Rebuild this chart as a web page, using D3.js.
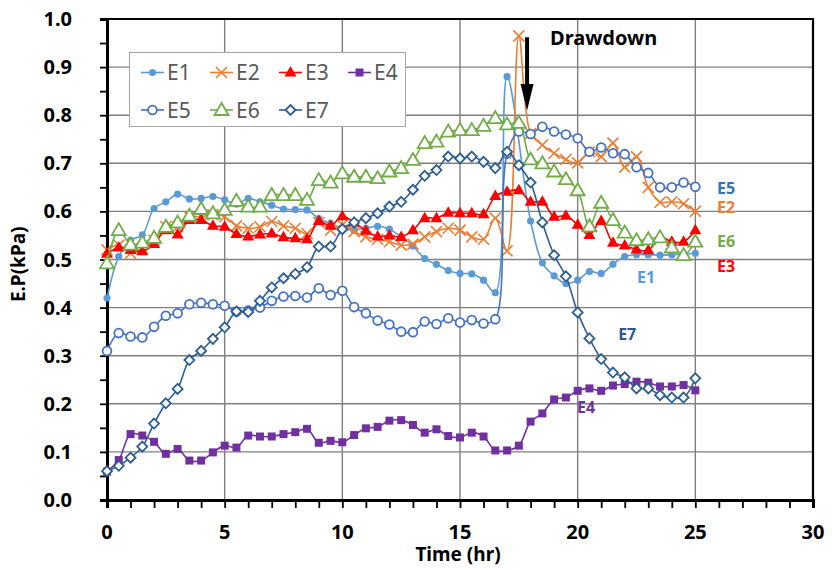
<!DOCTYPE html>
<html>
<head>
<meta charset="utf-8">
<script src="https://cdn.jsdelivr.net/npm/d3@7"></script>
<style>
  body { margin: 0; background: #fff; }
  text { font-family: "Noto Sans", "DejaVu Sans", sans-serif; }
</style>
</head>
<body>
<div id="chart"></div>
<script>
//  data (time in hours, earth pressure in kPa)
var hours = [0, 0.5, 1, 1.5, 2, 2.5, 3, 3.5, 4, 4.5, 5, 5.5, 6, 6.5, 7, 7.5, 8, 8.5, 9, 9.5,
  10, 10.5, 11, 11.5, 12, 12.5, 13, 13.5, 14, 14.5, 15, 15.5, 16, 16.5, 17, 17.5, 18, 18.5, 19, 19.5,
  20, 20.5, 21, 21.5, 22, 22.5, 23, 23.5, 24, 24.5, 25];

var e1 = [0.42, 0.506, 0.54, 0.551, 0.606, 0.62, 0.636, 0.626, 0.627, 0.631, 0.624, 0.615, 0.627, 0.62, 0.613, 0.605, 0.604, 0.603, 0.585, 0.575,
  0.565, 0.561, 0.565, 0.569, 0.563, 0.547, 0.528, 0.502, 0.49, 0.477, 0.471, 0.47, 0.457, 0.431, 0.88, null, 0.58, 0.493, 0.466, 0.45,
  0.457, 0.475, 0.471, 0.49, 0.506, 0.51, 0.51, 0.509, 0.51, 0.511, 0.513];
var e2 = [0.52, 0.53, 0.513, 0.523, 0.54, 0.568, 0.568, 0.589, 0.589, 0.593, 0.589, 0.57, 0.565, 0.568, 0.579, 0.57, 0.565, 0.554, 0.577, 0.561,
  0.572, 0.558, 0.547, 0.542, 0.537, 0.53, 0.532, 0.547, 0.558, 0.565, 0.561, 0.547, 0.542, 0.586, 0.518, 0.965, 0.762, 0.738, 0.721, 0.708,
  0.701, 0.724, 0.714, 0.742, 0.692, 0.714, 0.65, 0.619, 0.62, 0.616, 0.6];
var e3 = [0.512, 0.525, 0.52, 0.517, 0.532, 0.561, 0.552, 0.582, 0.582, 0.57, 0.568, 0.553, 0.548, 0.552, 0.554, 0.546, 0.544, 0.542, 0.58, 0.57,
  0.59, 0.577, 0.56, 0.548, 0.55, 0.547, 0.561, 0.586, 0.586, 0.597, 0.596, 0.596, 0.594, 0.632, 0.641, 0.644, 0.62, 0.62, 0.589, 0.591,
  0.572, 0.551, 0.58, 0.535, 0.529, 0.521, 0.519, 0.547, 0.537, 0.537, 0.561];
var e4 = [0.059, 0.083, 0.137, 0.134, 0.121, 0.096, 0.106, 0.082, 0.082, 0.099, 0.113, 0.109, 0.134, 0.132, 0.132, 0.137, 0.141, 0.148, 0.119, 0.123,
  0.12, 0.135, 0.149, 0.152, 0.165, 0.166, 0.156, 0.14, 0.147, 0.133, 0.13, 0.14, 0.132, 0.103, 0.103, 0.113, 0.163, 0.18, 0.209, 0.213,
  0.227, 0.232, 0.227, 0.238, 0.241, 0.246, 0.244, 0.236, 0.236, 0.239, 0.228];
var e5 = [0.31, 0.347, 0.34, 0.338, 0.36, 0.383, 0.388, 0.407, 0.41, 0.407, 0.404, 0.392, 0.394, 0.4, 0.414, 0.423, 0.424, 0.421, 0.44, 0.426,
  0.435, 0.401, 0.388, 0.373, 0.365, 0.35, 0.349, 0.371, 0.366, 0.378, 0.369, 0.374, 0.367, 0.376, 0.72, 0.766, 0.761, 0.776, 0.766, 0.76,
  0.752, 0.724, 0.733, 0.721, 0.719, 0.692, 0.68, 0.65, 0.65, 0.66, 0.651];
var e6 = [0.492, 0.561, 0.531, 0.535, 0.545, 0.568, 0.577, 0.591, 0.605, 0.596, 0.603, 0.622, 0.61, 0.61, 0.634, 0.634, 0.634, 0.624, 0.665, 0.66,
  0.679, 0.672, 0.672, 0.669, 0.683, 0.69, 0.707, 0.742, 0.745, 0.766, 0.769, 0.769, 0.778, 0.794, 0.781, 0.784, 0.708, 0.7, 0.683, 0.667,
  0.644, 0.569, 0.618, 0.582, 0.556, 0.54, 0.542, 0.546, 0.525, 0.509, 0.537];
var e7 = [0.06, 0.071, 0.088, 0.111, 0.159, 0.201, 0.231, 0.291, 0.31, 0.335, 0.359, 0.392, 0.391, 0.414, 0.442, 0.461, 0.47, 0.484, 0.527, 0.527,
  0.563, 0.577, 0.586, 0.596, 0.61, 0.62, 0.645, 0.674, 0.686, 0.714, 0.71, 0.714, 0.703, 0.69, 0.724, 0.696, 0.66, 0.577, 0.509, 0.465,
  0.39, 0.336, 0.293, 0.265, 0.255, 0.232, 0.232, 0.218, 0.213, 0.213, 0.253];

var seriesNames = ["E1", "E2", "E3", "E4", "E5", "E6", "E7"];
var seriesValues = [e1, e2, e3, e4, e5, e6, e7];
var xTicks = [0, 5, 10, 15, 20, 25, 30];
var yTicks = [0.0, 0.1, 0.2, 0.3, 0.4, 0.5, 0.6, 0.7, 0.8, 0.9, 1.0];

//  end labels beside the curves [name, hour, value at baseline]
var endLabels = [["E5", 25.92, 0.636], ["E2", 25.92, 0.597], ["E6", 25.92, 0.526], ["E3", 25.92, 0.474],
  ["E1", 22.52, 0.451], ["E7", 21.72, 0.333], ["E4", 19.97, 0.181]];

//  styles
var styles = {
  E1: {color: "#5B9BD5", marker: "dot", label: "#5B9BD5"},
  E2: {color: "#ED7D31", marker: "x", label: "#ED7D31"},
  E3: {color: "#FF0000", marker: "tri", label: "#FF0000"},
  E4: {color: "#7030A0", marker: "sq", label: "#7030A0"},
  E5: {color: "#4472C4", marker: "circ", label: "#2E75B6"},
  E6: {color: "#70AD47", marker: "otri", label: "#70AD47"},
  E7: {color: "#2C5E91", marker: "dia", label: "#2F5597"}
};

function drawMarker(g, kind, color) {
  if (kind == "dot") {
    g.append("circle").attr("r", 3.6).attr("fill", color);
  } else if (kind == "x") {
    g.append("path").attr("d", "M-5.5,-5.5L5.5,5.5M-5.5,5.5L5.5,-5.5")
      .attr("stroke", color).attr("stroke-width", 1.6).attr("fill", "none");
  } else if (kind == "tri") {
    g.append("path").attr("d", "M0,-6.5L6,4L-6,4Z").attr("fill", color);
  } else if (kind == "sq") {
    g.append("rect").attr("x", -4).attr("y", -4).attr("width", 8).attr("height", 8).attr("fill", color);
  } else if (kind == "circ") {
    g.append("circle").attr("r", 4.4).attr("fill", "#fff").attr("stroke", color).attr("stroke-width", 1.8);
  } else if (kind == "otri") {
    g.append("path").attr("d", "M0,-7L7,5L-7,5Z").attr("fill", "#fff")
      .attr("stroke", color).attr("stroke-width", 1.8);
  } else if (kind == "dia") {
    g.append("path").attr("d", "M0,-5L5,0L0,5L-5,0Z").attr("fill", "#fff")
      .attr("stroke", color).attr("stroke-width", 1.8);
  }
}

function draw_chart() {
  const w = 832, h = 570;
  const margin = {top: 19, right: 19, bottom: 70, left: 107};

  const svg = d3.select("#chart").append("svg").attr("width", w).attr("height", h);
  svg.append("rect").attr("width", w).attr("height", h).attr("fill", "#fff");

  const x = d3.scaleLinear().domain([0, 30]).range([margin.left, w - margin.right]);
  const y = d3.scaleLinear().domain([0, 1]).range([h - margin.bottom, margin.top]);

  //  grid
  svg.append("g").selectAll("line").data(yTicks.slice(1)).enter()
    .append("line")
    .attr("x1", x(0)).attr("x2", x(30))
    .attr("y1", d => y(d)).attr("y2", d => y(d))
    .attr("stroke", "#7f7f7f").attr("stroke-width", 1.4);
  svg.append("g").selectAll("line").data(xTicks.slice(1)).enter()
    .append("line")
    .attr("x1", d => x(d)).attr("x2", d => x(d))
    .attr("y1", y(0)).attr("y2", y(1))
    .attr("stroke", "#7f7f7f").attr("stroke-width", 1.4);

  //  frame top / right
  svg.append("path")
    .attr("d", `M${x(0)},${y(1)}H${x(30)}V${y(0)}`)
    .attr("fill", "none").attr("stroke", "#000").attr("stroke-width", 2.2);

  //  axes
  const xAxis = d3.axisBottom(x).tickValues(d3.range(0, 31, 1)).tickSize(8).tickFormat("");
  svg.append("g").attr("transform", `translate(0,${y(0)})`).call(xAxis)
    .call(g => g.select(".domain").attr("stroke-width", 3))
    .call(g => g.selectAll(".tick line").attr("stroke-width", 1.8));
  const yAxis = d3.axisLeft(y).tickValues(d3.range(0, 1.001, 0.05)).tickSize(7).tickFormat("");
  svg.append("g").attr("transform", `translate(${x(0)},0)`).call(yAxis)
    .call(g => g.select(".domain").attr("stroke-width", 3))
    .call(g => g.selectAll(".tick line").attr("stroke-width", 1.8));

  svg.append("g").selectAll("text").data(xTicks).enter()
    .append("text")
    .attr("x", d => x(d)).attr("y", y(0) + 39)
    .attr("text-anchor", "middle")
    .style("font-size", "20px").style("font-weight", "bold")
    .text(d => d);
  svg.append("g").selectAll("text").data(yTicks).enter()
    .append("text")
    .attr("x", 72).attr("y", d => y(d) + 7)
    .attr("text-anchor", "end")
    .style("font-size", "20px").style("font-weight", "bold")
    .text(d => d.toFixed(1));

  svg.append("text")
    .attr("x", 458).attr("y", 561)
    .attr("text-anchor", "middle")
    .style("font-size", "19px").style("font-weight", "bold")
    .text("Time (hr)");
  svg.append("text")
    .attr("transform", `translate(25,${y(0.49)}) rotate(-90)`)
    .attr("text-anchor", "middle")
    .style("font-size", "19px").style("font-weight", "bold")
    .text("E.P(kPa)");

  //  series
  const line = d3.line()
    .x(d => x(d[0])).y(d => y(d[1]))
    .curve(d3.curveCatmullRom.alpha(0.5));

  seriesNames.forEach((name, i) => {
    const st = styles[name];
    const pts = hours.map((t, j) => [t, seriesValues[i][j]]).filter(d => d[1] != null);
    const g = svg.append("g");
    g.append("path").datum(pts)
      .attr("d", line)
      .attr("fill", "none").attr("stroke", st.color).attr("stroke-width", 1.6);
    g.selectAll("g").data(pts).enter()
      .append("g")
      .attr("transform", d => `translate(${x(d[0])},${y(d[1])})`)
      .each(function() { drawMarker(d3.select(this), st.marker, st.color); });
  });

  //  end labels
  svg.append("g").selectAll("text").data(endLabels).enter()
    .append("text")
    .attr("x", d => x(d[1])).attr("y", d => y(d[2]))
    .style("font-size", "16px").style("font-weight", "bold")
    .style("fill", d => styles[d[0]].label)
    .text(d => d[0]);

  //  drawdown arrow
  const ax = x(17.85);
  svg.append("rect")
    .attr("x", ax - 2).attr("y", y(0.962)).attr("width", 4).attr("height", y(0.86) - y(0.962))
    .attr("fill", "#000");
  svg.append("path")
    .attr("d", `M${ax - 6.5},${y(0.865)}L${ax + 6.5},${y(0.865)}L${ax},${y(0.81)}Z`)
    .attr("fill", "#000");
  svg.append("text")
    .attr("x", 550).attr("y", 45)
    .style("font-size", "20px").style("font-weight", "bold")
    .text("Drawdown");

  //  legend
  const lg = svg.append("g");
  lg.append("rect")
    .attr("x", 129.5).attr("y", 52.5).attr("width", 276).attr("height", 74)
    .attr("fill", "#fff").attr("stroke", "#a6a6a6").attr("stroke-width", 1);
  const item = lg.selectAll("g").data(seriesNames).enter()
    .append("g")
    .attr("transform", (d, i) => `translate(${141 + (i % 4) * 69},${i < 4 ? 72.5 : 110})`);
  item.append("line")
    .attr("x1", 0).attr("x2", 23)
    .attr("stroke", d => styles[d].color).attr("stroke-width", 1.6);
  item.append("g").attr("transform", "translate(11.5,0)")
    .each(function(d) { drawMarker(d3.select(this), styles[d].marker, styles[d].color); });
  item.append("text")
    .attr("x", 26).attr("y", 7.5)
    .style("font-size", "21px").style("fill", "#595959")
    .text(d => d);

  return svg.node();
}

draw_chart();
</script>
</body>
</html>
